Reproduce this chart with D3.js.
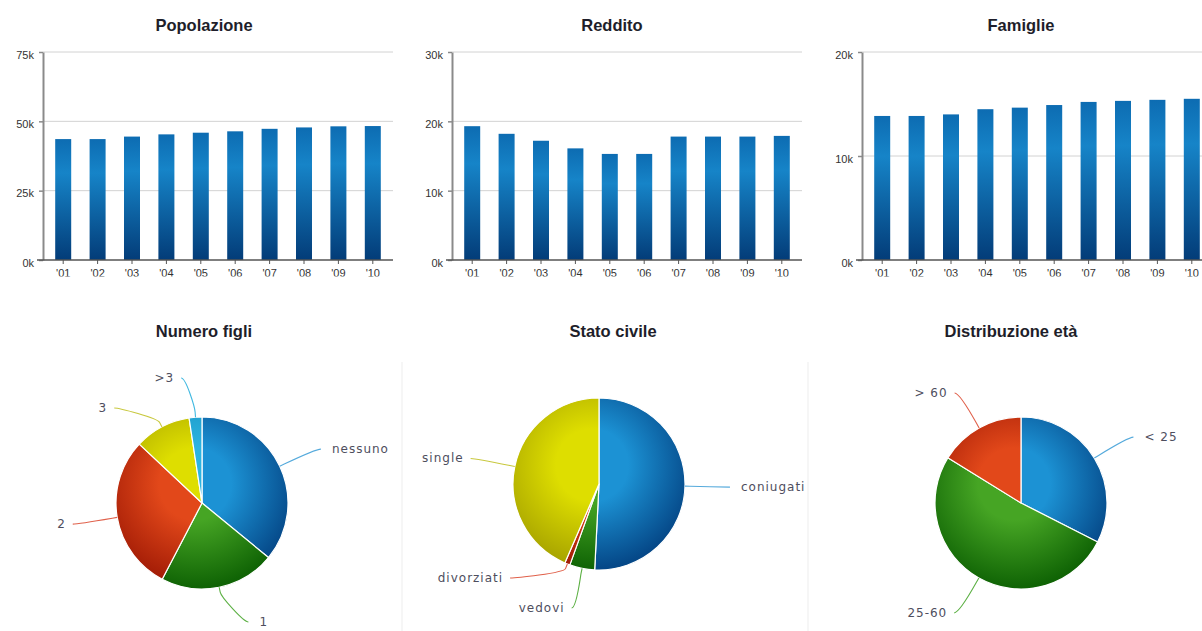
<!DOCTYPE html>
<html>
<head>
<meta charset="utf-8">
<script src="https://cdn.jsdelivr.net/npm/d3@7"></script>
<style>
  html, body { margin: 0; padding: 0; background: #fff; }
  svg { display: block; }
</style>
</head>
<body>
<svg id="chart" width="1202" height="631"></svg>
<script>
// ---- Data -------------------------------------------------------------
// Years shown on the three bar charts
const years = ["'01", "'02", "'03", "'04", "'05", "'06", "'07", "'08", "'09", "'10"];

// Bar series, in thousands
const popolazione = [43.6, 43.6, 44.5, 45.3, 45.9, 46.4, 47.3, 47.8, 48.2, 48.3];
const reddito     = [19.3, 18.2, 17.2, 16.1, 15.3, 15.3, 17.8, 17.8, 17.8, 17.9];
const famiglie    = [13.85, 13.85, 14.0, 14.5, 14.65, 14.9, 15.2, 15.3, 15.4, 15.5];

// Y tick values (thousands)
const popolazioneTicks = [0, 25, 50, 75];
const redditoTicks     = [0, 10, 20, 30];
const famiglieTicks    = [0, 10, 20];

// Pie series (percent)
const figliLabels  = ["nessuno", "1", "2", "3", ">3"];
const figliValues  = [35.9, 21.7, 29.3, 10.6, 2.4];

const civileLabels = ["coniugati", "vedovi", "divorziati", "single"];
const civileValues = [50.8, 4.7, 1.0, 43.5];

const etaLabels    = ["< 25", "25-60", "> 60"];
const etaValues    = [32.5, 51.3, 16.2];

// ---- Styles -----------------------------------------------------------
const palette = {
  blue:   { light: "#1c92d4", dark: "#054888", line: "#55aadc" },
  green:  { light: "#46a524", dark: "#106405", line: "#5cb044" },
  red:    { light: "#e2481a", dark: "#a01a05", line: "#e0604a" },
  yellow: { light: "#dede00", dark: "#a6a200", line: "#c8c83e" },
  cyan:   { light: "#2cb4e0", dark: "#168fc0", line: "#40b8e0" }
};
const figliColors  = ["blue", "green", "red", "yellow", "cyan"];
const civileColors = ["blue", "green", "red", "yellow"];
const etaColors    = ["blue", "green", "red"];

const titleFont = "'Liberation Sans', Arial, sans-serif";
const labelFont = "'DejaVu Sans', Verdana, sans-serif";

// ---- Canvas -----------------------------------------------------------
const svg = d3.select("#chart");
const defs = svg.append("defs");

defs.append("clipPath").attr("id", "topRowClip")
  .append("rect").attr("x", 0).attr("y", 0).attr("width", 1202).attr("height", 276.5);

const barGrad = defs.append("linearGradient").attr("id", "barFill")
  .attr("x1", 0).attr("y1", 0).attr("x2", 0).attr("y2", 1);
barGrad.append("stop").attr("offset", 0).attr("stop-color", "#0d6cb2");
barGrad.append("stop").attr("offset", 0.28).attr("stop-color", "#1684c8");
barGrad.append("stop").attr("offset", 1).attr("stop-color", "#033c78");

// faint separators between the pie panels
[402, 808].forEach(xs => {
  svg.append("line").attr("x1", xs).attr("x2", xs).attr("y1", 362).attr("y2", 631)
    .attr("stroke", "#ededed").attr("stroke-width", 1);
});

// ---- Bar charts -------------------------------------------------------
const plotTop = 52, plotBottom = 260;
const barPanels = [
  { title: "Popolazione", values: popolazione, ticks: popolazioneTicks, ox: 0,   titleX: 204 },
  { title: "Reddito",     values: reddito,     ticks: redditoTicks,     ox: 409, titleX: 612 },
  { title: "Famiglie",    values: famiglie,    ticks: famiglieTicks,    ox: 819, titleX: 1021 }
];

const topRow = svg.append("g").attr("clip-path", "url(#topRowClip)");

barPanels.forEach(p => {
  const g = topRow.append("g");
  const axisX = p.ox + 43;
  const gridEnd = p.ox + 393;

  const x = d3.scaleBand().domain(years)
    .range([p.ox + 46, p.ox + 390])
    .paddingInner(0.535).paddingOuter(0.2675);
  const y = d3.scaleLinear().domain([0, d3.max(p.ticks)]).range([plotBottom, plotTop]);

  svg.append("text")
    .attr("x", p.titleX).attr("y", 31)
    .attr("text-anchor", "middle")
    .attr("font-family", titleFont).attr("font-weight", "bold").attr("font-size", 16.5)
    .attr("fill", "#1e1e2a")
    .text(p.title);

  // horizontal grid
  g.selectAll("line.grid").data(p.ticks.filter(t => t > 0)).join("line")
    .attr("class", "grid")
    .attr("x1", axisX).attr("x2", gridEnd)
    .attr("y1", d => y(d)).attr("y2", d => y(d))
    .attr("stroke", "#d2d2d2").attr("stroke-width", 1);

  // bars
  g.selectAll("rect.bar").data(p.values).join("rect")
    .attr("class", "bar")
    .attr("x", (d, i) => x(years[i]))
    .attr("width", x.bandwidth())
    .attr("y", d => y(d))
    .attr("height", d => y(0) - y(d))
    .attr("fill", "url(#barFill)");

  // y axis
  const ya = g.append("g").attr("transform", `translate(${axisX},0)`)
    .call(d3.axisLeft(y).tickValues(p.ticks).tickSizeInner(4).tickSizeOuter(0)
      .tickPadding(5).tickFormat(d => d + "k"));
  ya.select(".domain").attr("stroke", "#8a8a8a").attr("stroke-width", 2);
  ya.selectAll(".tick line").attr("stroke", "#8a8a8a").attr("stroke-width", 1.5);
  ya.selectAll(".tick text")
    .attr("font-family", titleFont).attr("font-size", 11).attr("fill", "#333")
    .attr("dy", "0.55em").attr("x", -9);

  // x axis
  const xa = g.append("g").attr("transform", `translate(0,${plotBottom})`)
    .call(d3.axisBottom(x).tickSizeInner(4).tickSizeOuter(0).tickPadding(3));
  xa.select(".domain").remove();
  xa.selectAll(".tick line").attr("stroke", "#555").attr("stroke-width", 1);
  xa.selectAll(".tick text")
    .attr("font-family", titleFont).attr("font-size", 11).attr("fill", "#333")
    .attr("dy", "0.95em");
  g.append("line")
    .attr("x1", axisX - 6).attr("x2", gridEnd)
    .attr("y1", plotBottom).attr("y2", plotBottom)
    .attr("stroke", "#555").attr("stroke-width", 1.6);
});

// ---- Pie charts -------------------------------------------------------
const radius = 86;
const labelRadius = 126;
const labelGap = 30;

const piePanels = [
  { title: "Numero figli",      labels: figliLabels,  values: figliValues,  colors: figliColors,  cx: 202,  cy: 503, titleX: 204 },
  { title: "Stato civile",      labels: civileLabels, values: civileValues, colors: civileColors, cx: 599,  cy: 484, titleX: 613 },
  { title: "Distribuzione età", labels: etaLabels,    values: etaValues,    colors: etaColors,    cx: 1021, cy: 503, titleX: 1011 }
];

// Spread the labels of one side so they keep at least labelGap apart,
// moving small slices more than large ones and staying inside [top, bottom].
function spreadLabels(items, top, bottom) {
  items.sort((a, b) => a.ideal - b.ideal);
  const n = items.length;
  const blocks = [];
  items.forEach((it, i) => {
    blocks.push({ z: it.ideal - i * labelGap, w: Math.max(it.weight, 0.01), count: 1 });
    while (blocks.length > 1 && blocks[blocks.length - 2].z > blocks[blocks.length - 1].z) {
      const b = blocks.pop(), a = blocks.pop();
      blocks.push({ z: (a.z * a.w + b.z * b.w) / (a.w + b.w), w: a.w + b.w, count: a.count + b.count });
    }
  });
  const zMax = bottom - (n - 1) * labelGap;
  let i = 0;
  blocks.forEach(b => {
    const z = Math.min(Math.max(b.z, top), zMax);
    for (let k = 0; k < b.count; k++) { items[i].y = z + i * labelGap; i++; }
  });
}

const pie = d3.pie().sort(null).value(d => d);
const arc = d3.arc().innerRadius(0).outerRadius(radius);

piePanels.forEach((p, pi) => {
  svg.append("text")
    .attr("x", p.titleX).attr("y", 337)
    .attr("text-anchor", "middle")
    .attr("font-family", titleFont).attr("font-weight", "bold").attr("font-size", 16.5)
    .attr("fill", "#1e1e2a")
    .text(p.title);

  const arcs = pie(p.values);

  // one radial gradient per slice colour, lit from the upper left of the pie
  arcs.forEach((a, i) => {
    const c = palette[p.colors[i]];
    const rg = defs.append("radialGradient").attr("id", `pie${pi}-${i}`)
      .attr("gradientUnits", "userSpaceOnUse")
      .attr("cx", -0.08 * radius).attr("cy", -0.22 * radius).attr("r", 1.2 * radius);
    rg.append("stop").attr("offset", 0).attr("stop-color", c.light);
    rg.append("stop").attr("offset", 0.35).attr("stop-color", c.light);
    rg.append("stop").attr("offset", 1).attr("stop-color", c.dark);
  });

  const g = svg.append("g").attr("transform", `translate(${p.cx},${p.cy})`);
  g.selectAll("path.slice").data(arcs).join("path")
    .attr("class", "slice")
    .attr("d", arc)
    .attr("fill", (d, i) => `url(#pie${pi}-${i})`)
    .attr("stroke", "#fff").attr("stroke-width", 1.2).attr("stroke-linejoin", "round");

  // label placement
  const items = arcs.map((a, i) => {
    const mid = (a.startAngle + a.endAngle) / 2;
    return {
      i, mid,
      side: mid < Math.PI ? 1 : -1,
      ideal: p.cy - labelRadius * Math.cos(mid),
      weight: a.value
    };
  });
  const top = p.cy - 125, bottom = Math.min(p.cy + 124, 622);
  spreadLabels(items.filter(d => d.side > 0), top, bottom);
  spreadLabels(items.filter(d => d.side < 0), top, bottom);

  items.forEach(it => {
    const c = palette[p.colors[it.i]];
    const dx = Math.sin(it.mid), dy = -Math.cos(it.mid);
    const off = Math.max(-labelRadius, Math.min(labelRadius, it.y - p.cy));
    const xg = p.cx + it.side * Math.sqrt(labelRadius * labelRadius - off * off);
    const base = [p.cx + radius * dx, p.cy + radius * dy];
    const brk  = [p.cx + (radius + 5) * dx, p.cy + (radius + 5) * dy];
    const ctl  = [p.cx + (radius + 10) * dx, p.cy + (radius + 10) * dy];
    const path = d3.path();
    path.moveTo(xg + it.side * 5, it.y);
    path.bezierCurveTo(xg, it.y, ctl[0], ctl[1], brk[0], brk[1]);
    path.lineTo(base[0], base[1]);
    svg.append("path").attr("d", path.toString())
      .attr("fill", "none").attr("stroke", c.line).attr("stroke-width", 1.1);

    svg.append("text")
      .attr("x", xg + (it.side > 0 ? 16 : -12))
      .attr("y", it.y + 4)
      .attr("text-anchor", it.side > 0 ? "start" : "end")
      .attr("font-family", labelFont).attr("font-size", 12)
      .attr("letter-spacing", 1)
      .attr("fill", "#4e4e5e")
      .text(p.labels[it.i]);
  });
});
</script>
</body>
</html>
